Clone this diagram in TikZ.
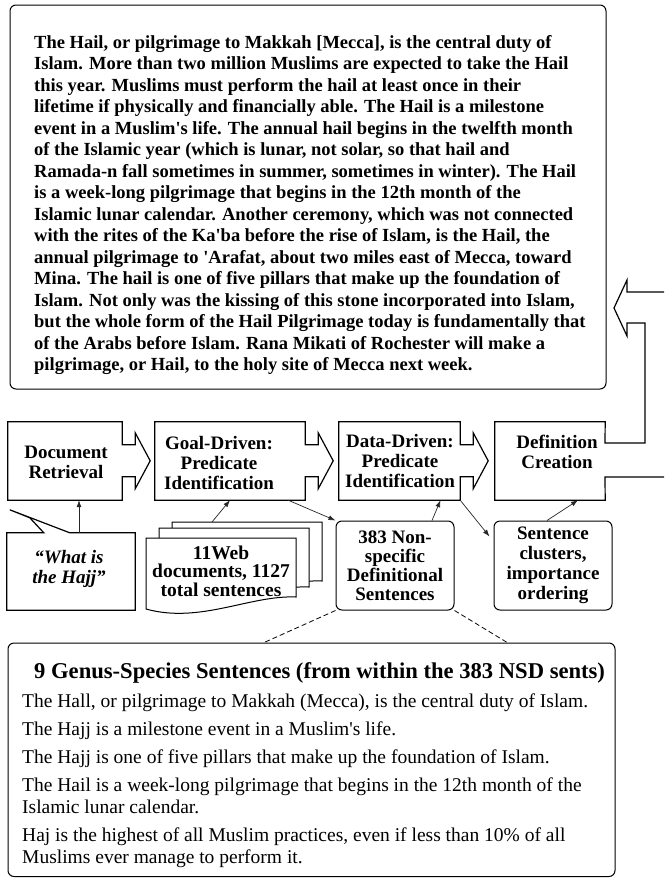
\documentclass[tikz,border=0pt]{standalone}
\usepackage{fontspec}
\setmainfont{Liberation Serif}[Ligatures=TeXOff]
\usepackage{tikz}
\usetikzlibrary{arrows.meta,calc}

\tikzset{
	flowline/.style={line width=1.2pt, line join=miter},
	roundbox/.style={draw, line width=1pt, rounded corners=6pt},
	bodybox/.style={minimum width=#1, minimum height=78pt, inner sep=0pt},
	boxtext/.style={align=center, inner sep=0pt, font=\fontsize{19}{20}\selectfont\bfseries},
	link/.style={line width=0.7pt, draw=black!85, -{Latex[length=7pt,width=5pt]}},
	nsdline/.style={line width=0.8pt, dash pattern=on 5pt off 3pt}
}

\begin{document}
\begin{tikzpicture}[x=1pt,y=-1pt]
	\useasboundingbox (0,0) rectangle (664,878);

	% the passage that is returned
	\node[roundbox, minimum width=596pt, minimum height=384pt, inner sep=0pt] (passage) at (308,197) {};
	\node[anchor=west, align=left, inner sep=0pt, font=\fontsize{18.5}{21.5}\selectfont\bfseries] (passagetext) at (34,205) {The Hail, or pilgrimage to Makkah [Mecca], is the central duty of\\
		Islam. More than two million Muslims are expected to take the Hail\\
		this year. Muslims must perform the hail at least once in their\\
		lifetime if physically and financially able. The Hail is a milestone\\
		event in a Muslim's life. The annual hail begins in the twelfth month\\
		of the Islamic year (which is lunar, not solar, so that hail and\\
		Ramada-n fall sometimes in summer, sometimes in winter). The Hail\\
		is a week-long pilgrimage that begins in the 12th month of the\\
		Islamic lunar calendar. Another ceremony, which was not connected\\
		with the rites of the Ka'ba before the rise of Islam, is the Hail, the\\
		annual pilgrimage to 'Arafat, about two miles east of Mecca, toward\\
		Mina. The hail is one of five pillars that make up the foundation of\\
		Islam. Not only was the kissing of this stone incorporated into Islam,\\
		but the whole form of the Hail Pilgrimage today is fundamentally that\\
		of the Arabs before Islam. Rana Mikati of Rochester will make a\\
		pilgrimage, or Hail, to the holy site of Mecca next week.};

	% pipeline
	\node[bodybox=114pt] (dr) at (65,461) {};
	\node[bodybox=150pt] (gd) at (230,461) {};
	\node[bodybox=121pt] (dd) at (399.5,461) {};
	\node[bodybox=110pt] (dc) at (550,461) {};
	\foreach \n in {dr,gd,dd}
		\draw[flowline] (\n.north west) -- (\n.north east) -- ++(0,23) -- ++(13,0) -- ++(0,-12) -- ++(15,28) -- ++(-15,28) -- ++(0,-12) -- ++(-13,0) -- (\n.south east) -- (\n.south west) -- cycle;
	\draw[flowline] (664,292) -- (627,292) -- (627,280) -- (614,308) -- (627,336) -- (627,323) -- (645,323) -- (645,443) -- (605,443) -- (dc.north east) -- (dc.north west) -- (dc.south west) -- (dc.south east) -- (605,477) -- (664,477);
	\node[boxtext] (drtext) at (66,462) {Document\\Retrieval};
	\node[boxtext] (gdtext) at (219,463) {Goal-Driven:\\Predicate\\Identification};
	\node[boxtext] (ddtext) at (400,461) {Data-Driven:\\Predicate\\Identification};
	\node[boxtext] (dctext) at (557,452) {Definition\\Creation};

	% question
	\node[minimum width=128pt, minimum height=77pt, inner sep=0pt] (q) at (71,571.5) {};
	\draw[flowline] (q.north west) -- ++(37,0) -- ++(-14,-15) -- ++(-20,-8) -- ++(60,23) -- (q.north east) -- (q.south east) -- (q.south west) -- cycle;
	\node[boxtext, font=\fontsize{19}{20}\selectfont\bfseries\itshape] (qtext) at (69,569) {“What is\\the Hajj”};

	% web documents
	\foreach \dx/\dy in {26/16,13/10}
		\draw[line width=1pt, fill=white, shift={(\dx,-\dy)}] (146,609) -- (146,538) -- (296,538) -- (296,597) .. controls (250,595) and (200,624) .. (146,609) -- cycle;
	\draw[line width=1pt, fill=white] (146,609) -- (146,538) -- (296,538) -- (296,597) .. controls (250,595) and (200,624) .. (146,609) -- cycle;
	\node[boxtext, font=\fontsize{19.5}{18.5}\selectfont\bfseries] (web) at (221,571) {11Web\\documents, 1127\\total sentences};

	\node[roundbox, boxtext, minimum width=118pt, minimum height=89pt, font=\fontsize{19}{19}\selectfont\bfseries] (nsd) at (395,565.5) {383 Non-\\specific\\Definitional\\Sentences};
	\node[roundbox, boxtext, minimum width=118pt, minimum height=89pt] (sc) at (553,565.5) {Sentence\\clusters,\\importance\\ordering};

	% genus-species sentences
	\node[roundbox, minimum width=607pt, minimum height=233.5pt, inner sep=0pt] (gs) at (311.5,759.75) {};
	\node[anchor=north west, align=left, inner sep=0pt, font=\fontsize{19.5}{22}\selectfont] (gstext) at (22,662.5) {\hspace*{12pt}{\bfseries\fontsize{22.6}{22}\selectfont 9 Genus-Species Sentences (from within the 383 NSD sents)}\\[7pt]
		The Hall, or pilgrimage to Makkah (Mecca), is the central duty of Islam.\\[6pt]
		The Hajj is a milestone event in a Muslim's life.\\[6pt]
		The Hajj is one of five pillars that make up the foundation of Islam.\\[6pt]
		The Hail is a week-long pilgrimage that begins in the 12th month of the\\
		Islamic lunar calendar.\\[6pt]
		Haj is the highest of all Muslim practices, even if less than 10\% of all\\
		Muslims ever manage to perform it.};

	\coordinate (gsl) at (263,643);
	\coordinate (gsr) at (508,643);
	\draw[nsdline] (nsd.south west) -- (gsl);
	\draw[nsdline] (nsd.south east) -- (gsr);

	% connectors
	\coordinate (qtop) at (79,533);
	\coordinate (webtop) at (212,522);
	\draw[link] (qtop) -- (qtop |- dr.south);
	\draw[link] (webtop) -- (gd.south);
	\draw[link] ([xshift=-17pt]gd.south east) -- (nsd.north west);
	\draw[link] ([xshift=37pt]nsd.north) -- ([xshift=41pt]dd.south);
	\draw[link] (dd.south east) -- ($(sc.north west)+(-4,16)$);
	\draw[link] ([xshift=-6pt]sc.north) -- ([xshift=28pt]dc.south);
\end{tikzpicture}
\end{document}
